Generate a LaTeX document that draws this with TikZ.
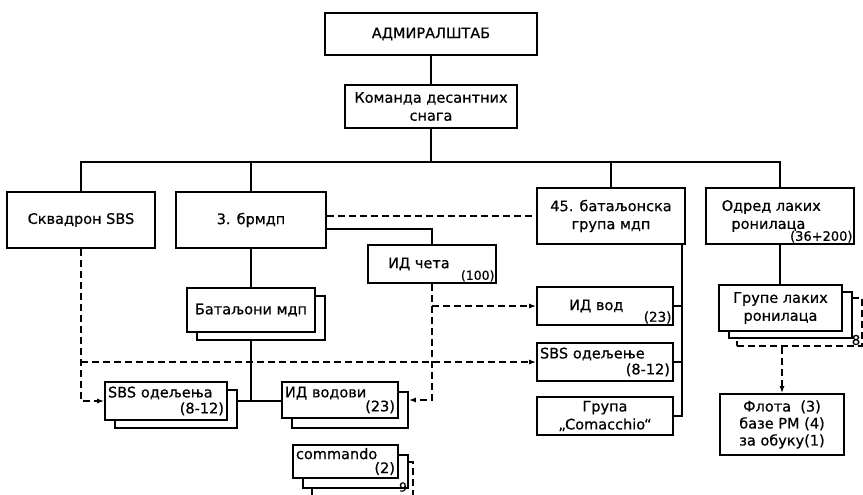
\documentclass[tikz,border=0pt]{standalone}
\usepackage{fontspec}
\setmainfont{DejaVu Sans}[FakeBold=0.6]
\usetikzlibrary{arrows.meta}
\newlength{\du}
\setlength{\du}{10\unitlength}
\tikzset{
  box/.style={draw, fill=white, rectangle, line width=1.6pt, inner sep=2pt, align=center, font=\fontsize{14.5}{18}\selectfont},
  shadowbox/.style={draw, fill=white, rectangle, line width=1.6pt, inner sep=0pt},
  numtext/.style={inner sep=1.5pt, font=\fontsize{13.5}{15}\selectfont},
  conn/.style={line width=1.6pt},
  dashline/.style={line width=1.6pt, dash pattern=on 7pt off 4pt},
  arrowline/.style={-{Latex[length=7pt,width=5pt]}},
}

\begin{document}
\begin{tikzpicture}
\pgftransformxscale{1.000000}
\pgftransformyscale{-1.000000}
\definecolor{dialinecolor}{rgb}{0.000000, 0.000000, 0.000000}
\pgfsetstrokecolor{dialinecolor}
\pgfsetlinewidth{0.160000\du}
\useasboundingbox (0.000000\du,0.000000\du) rectangle (86.300000\du,49.500000\du);
% back layers of the stacked boxes
\node[shadowbox, dashline, minimum width=12.500000\du, minimum height=4.800000\du] (grupeT) at (79.950000\du,32.200000\du) {};
\node[shadowbox, minimum width=12.300000\du, minimum height=4.600000\du] (grupeS) at (79.050000\du,31.500000\du) {};
\node[shadowbox, minimum width=12.800000\du, minimum height=4.400000\du] (batmdpS) at (26.100000\du,31.800000\du) {};
\node[shadowbox, minimum width=12.200000\du, minimum height=3.800000\du] (sbsodjaS) at (17.600000\du,40.900000\du) {};
\node[shadowbox, minimum width=11.600000\du, minimum height=3.600000\du] (idvodoviS) at (35.000000\du,41.000000\du) {};
\draw[conn] (31.200000\du,48.800000\du)--(31.200000\du,49.500000\du);
\draw[dashline] (40.800000\du,46.200000\du)--(41.300000\du,46.200000\du)--(41.300000\du,49.500000\du);
\node[shadowbox, minimum width=10.500000\du, minimum height=3.300000\du] (commandoS) at (35.550000\du,47.150000\du) {};
% boxes
\node[box, line width=0.240000\du, minimum width=21.200000\du, minimum height=4.200000\du] (adm) at (43.100000\du,3.400000\du){АДМИРАЛШТАБ};
\node[box, minimum width=17.200000\du, minimum height=4.300000\du] (kom) at (43.100000\du,10.650000\du){Команда десантних\\снага};
\node[box, minimum width=14.800000\du, minimum height=5.600000\du] (skv) at (8.100000\du,22.000000\du){Сквадрон SBS};
\node[box, minimum width=15.000000\du, minimum height=5.600000\du] (brm) at (25.100000\du,22.000000\du){3. брмдп};
\node[box, minimum width=14.800000\du, minimum height=5.600000\du] (bat45) at (61.100000\du,21.600000\du){45. батаљонска\\група мдп};
\node[box, minimum width=14.800000\du, minimum height=5.600000\du] (odred) at (78.000000\du,21.600000\du){Одред лаких\hspace*{1.2em}\\ронилаца\hspace*{1.6em}};
\node[box, minimum width=12.800000\du, minimum height=3.800000\du] (idceta) at (43.200000\du,26.400000\du){ИД чета\hspace*{1.8em}};
\node[box, minimum width=12.800000\du, minimum height=4.400000\du] (batmdp) at (25.100000\du,31.000000\du){Батаљони мдп};
\node[box, minimum width=13.600000\du, minimum height=3.800000\du] (idvod) at (60.500000\du,30.600000\du){ИД вод\hspace*{1.2em}};
\node[box, align=left, text width=13.000000\du, minimum width=13.600000\du, minimum height=3.800000\du] (sbsodj) at (60.500000\du,36.200000\du){SBS одељење\\[-2pt]\hfill(8-12)};
\node[box, minimum width=13.600000\du, minimum height=3.800000\du] (comac) at (60.500000\du,41.600000\du){Група\\„Comacchio“};
\node[box, minimum width=12.300000\du, minimum height=4.600000\du] (grupe) at (78.050000\du,30.800000\du){Групе лаких\\ронилаца};
\node[box, font=\fontsize{14.5}{17}\selectfont, minimum width=12.400000\du, minimum height=6.100000\du] (flota) at (78.200000\du,42.450000\du){Флота\ \ (3)\\базе РМ (4)\\за обуку(1)};
\node[box, align=left, text width=11.600000\du, minimum width=12.200000\du, minimum height=3.800000\du] (sbsodja) at (16.600000\du,40.100000\du){SBS одељења\\[-2pt]\hfill(8-12)};
\node[box, align=left, text width=11.000000\du, minimum width=11.600000\du, minimum height=3.600000\du] (idvodovi) at (34.000000\du,40.000000\du){ИД водови\\[-4pt]\hfill(23)};
\node[box, align=left, text width=9.900000\du, minimum width=10.500000\du, minimum height=3.300000\du] (commando) at (34.550000\du,46.150000\du){commando\\[-4pt]\hfill(2)\hspace*{0.6em}};
% numbers
\node[numtext, font=\fontsize{13}{14}\selectfont, anchor=south east] (odrednum) at (odred.south east){(36+200)};
\node[numtext, font=\fontsize{12.5}{14}\selectfont, anchor=south east] (idcetanum) at (idceta.south east){(100)};
\node[numtext, anchor=south east] (idvodnum) at (idvod.south east){(23)};
\node[numtext] (num8) at (85.600000\du,34.000000\du){8};
\node[numtext, font=\fontsize{12.5}{14}\selectfont] (num9) at (40.300000\du,48.700000\du){9};
% connectors
\coordinate (bar) at (43.100000\du,16.200000\du);
\coordinate (brmout) at (32.500000\du,22.900000\du);
\coordinate (jn) at (25.100000\du,40.100000\du);
\coordinate (rv) at (68.200000\du,24.300000\du);
\draw[conn] (adm.south) -- (adm.south |- kom.north);
\draw[conn] (kom.south) -- (kom.south |- bar);
\draw[conn] (skv.north) -- (skv.north |- bar) -- (odred.north |- bar) -- (odred.north);
\draw[conn] (brm.north) -- (brm.north |- bar);
\draw[conn] (bat45.north) -- (bat45.north |- bar);
\draw[dashline] (brm.east |- bat45.west) -- (bat45.west);
\draw[conn] (brm.east |- brmout) -| (idceta.north);
\draw[conn] (brm.south) -- (batmdp.north);
\draw[conn] (batmdp.south |- batmdpS.south) -- (jn);
\draw[conn] (sbsodjaS.east |- jn) -- (idvodovi.west |- jn);
\draw[dashline, arrowline] (skv.south) |- (sbsodja.west);
\draw[dashline, arrowline] (skv.south |- sbsodj.west) -- (sbsodj.west);
\draw[dashline, arrowline] (idceta.south) |- (idvodovi.east -| idvodoviS.east);
\draw[dashline, arrowline] (idceta.south |- idvod.west) -- (idvod.west);
\draw[conn] (rv |- bat45.south) -- (rv |- comac.east) -- (comac.east);
\draw[conn] (rv |- idvod.east) -- (idvod.east);
\draw[conn] (rv |- sbsodj.east) -- (sbsodj.east);
\draw[conn] (odred.south) -- (odred.south |- grupe.north);
\draw[dashline, arrowline] (flota.north |- grupeT.south) -- (flota.north);
\end{tikzpicture}
\end{document}
